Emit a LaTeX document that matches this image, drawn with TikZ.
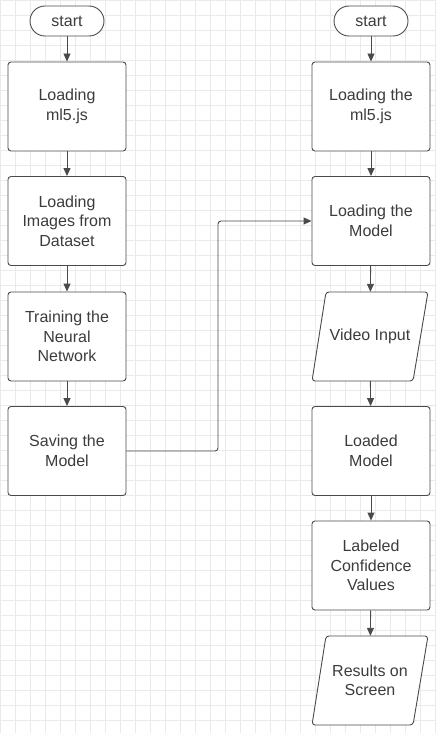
\documentclass[tikz,border=0pt]{standalone}
\usepackage{fontspec}
\setmainfont{Liberation Sans}
\usetikzlibrary{arrows.meta}
\definecolor{linegray}{HTML}{4A4A4A}
\definecolor{textgray}{HTML}{3C3C3C}
\definecolor{gridgray}{HTML}{EAEAEA}
\tikzset{
    boxfont/.style={font=\fontsize{16}{19.5}\selectfont, text=textgray},
    process/.style={boxfont, draw=linegray, fill=white, line width=0.9pt, rounded corners=3pt,
        minimum width=118pt, minimum height=89pt, align=center, inner sep=0pt},
    terminal/.style={boxfont, draw=linegray, fill=white, line width=0.9pt, rounded corners=15pt,
        minimum width=74pt, minimum height=30pt, inner sep=0pt},
    io/.style={boxfont, minimum width=116pt, minimum height=89pt, align=center, inner sep=0pt},
    iobox/.style={draw=linegray, fill=white, line width=0.9pt, rounded corners=3pt},
    flow/.style={draw=linegray, line width=0.9pt, -{Triangle[length=8pt,width=7pt]}},
}

\begin{document}
\begin{tikzpicture}[x=1pt,y=-1pt]
    \useasboundingbox (0,0) rectangle (436,733);
    \fill[white] (0,0) rectangle (436,733);
    % background grid
    \foreach \i in {0,15,...,435} \draw[gridgray, line width=0.6pt] (\i,0) -- (\i,733);
    \foreach \j in {0,15,...,732} \draw[gridgray, line width=0.6pt] (0,\j) -- (436,\j);

    % parallelograms for the input/output steps
    \foreach \cy in {336.5,680.5}
        \draw[iobox] (312,\cy+44.5) -- (326,\cy-44.5) -- (428,\cy-44.5) -- (413,\cy+44.5) -- cycle;

    % left column: training
    \node[terminal] (lstart) at (67,21) {start};
    \node[process] (lml) at (67,106.5) {Loading\\ml5.js};
    \node[process] (limages) at (67,221) {Loading\\Images from\\Dataset};
    \node[process] (ltrain) at (67,336.5) {Training the\\Neural\\Network};
    \node[process] (lsave) at (67,451) {Saving the\\Model};

    % right column: classifying
    \node[terminal] (rstart) at (371,21) {start};
    \node[process] (rml) at (371,106.5) {Loading the\\ml5.js};
    \node[process] (rmodel) at (371,221) {Loading the\\Model};
    \node[io] (rvideo) at (370,336.5) {Video Input};
    \node[process] (rloaded) at (371,451) {Loaded\\Model};
    \node[process] (rlabels) at (371,565.5) {Labeled\\Confidence\\Values};
    \node[io] (rresults) at (370,680.5) {Results on\\Screen};

    \foreach \a/\b in {lstart/lml, lml/limages, limages/ltrain, ltrain/lsave,
        rstart/rml, rml/rmodel, rmodel/rvideo, rvideo/rloaded, rloaded/rlabels, rlabels/rresults}
        \draw[flow] (\a) -- (\b);

    \coordinate (bend) at (218,451);
    \draw[flow, rounded corners=3pt] (lsave.east) -- (bend) |- (rmodel.west);
\end{tikzpicture}
\end{document}
